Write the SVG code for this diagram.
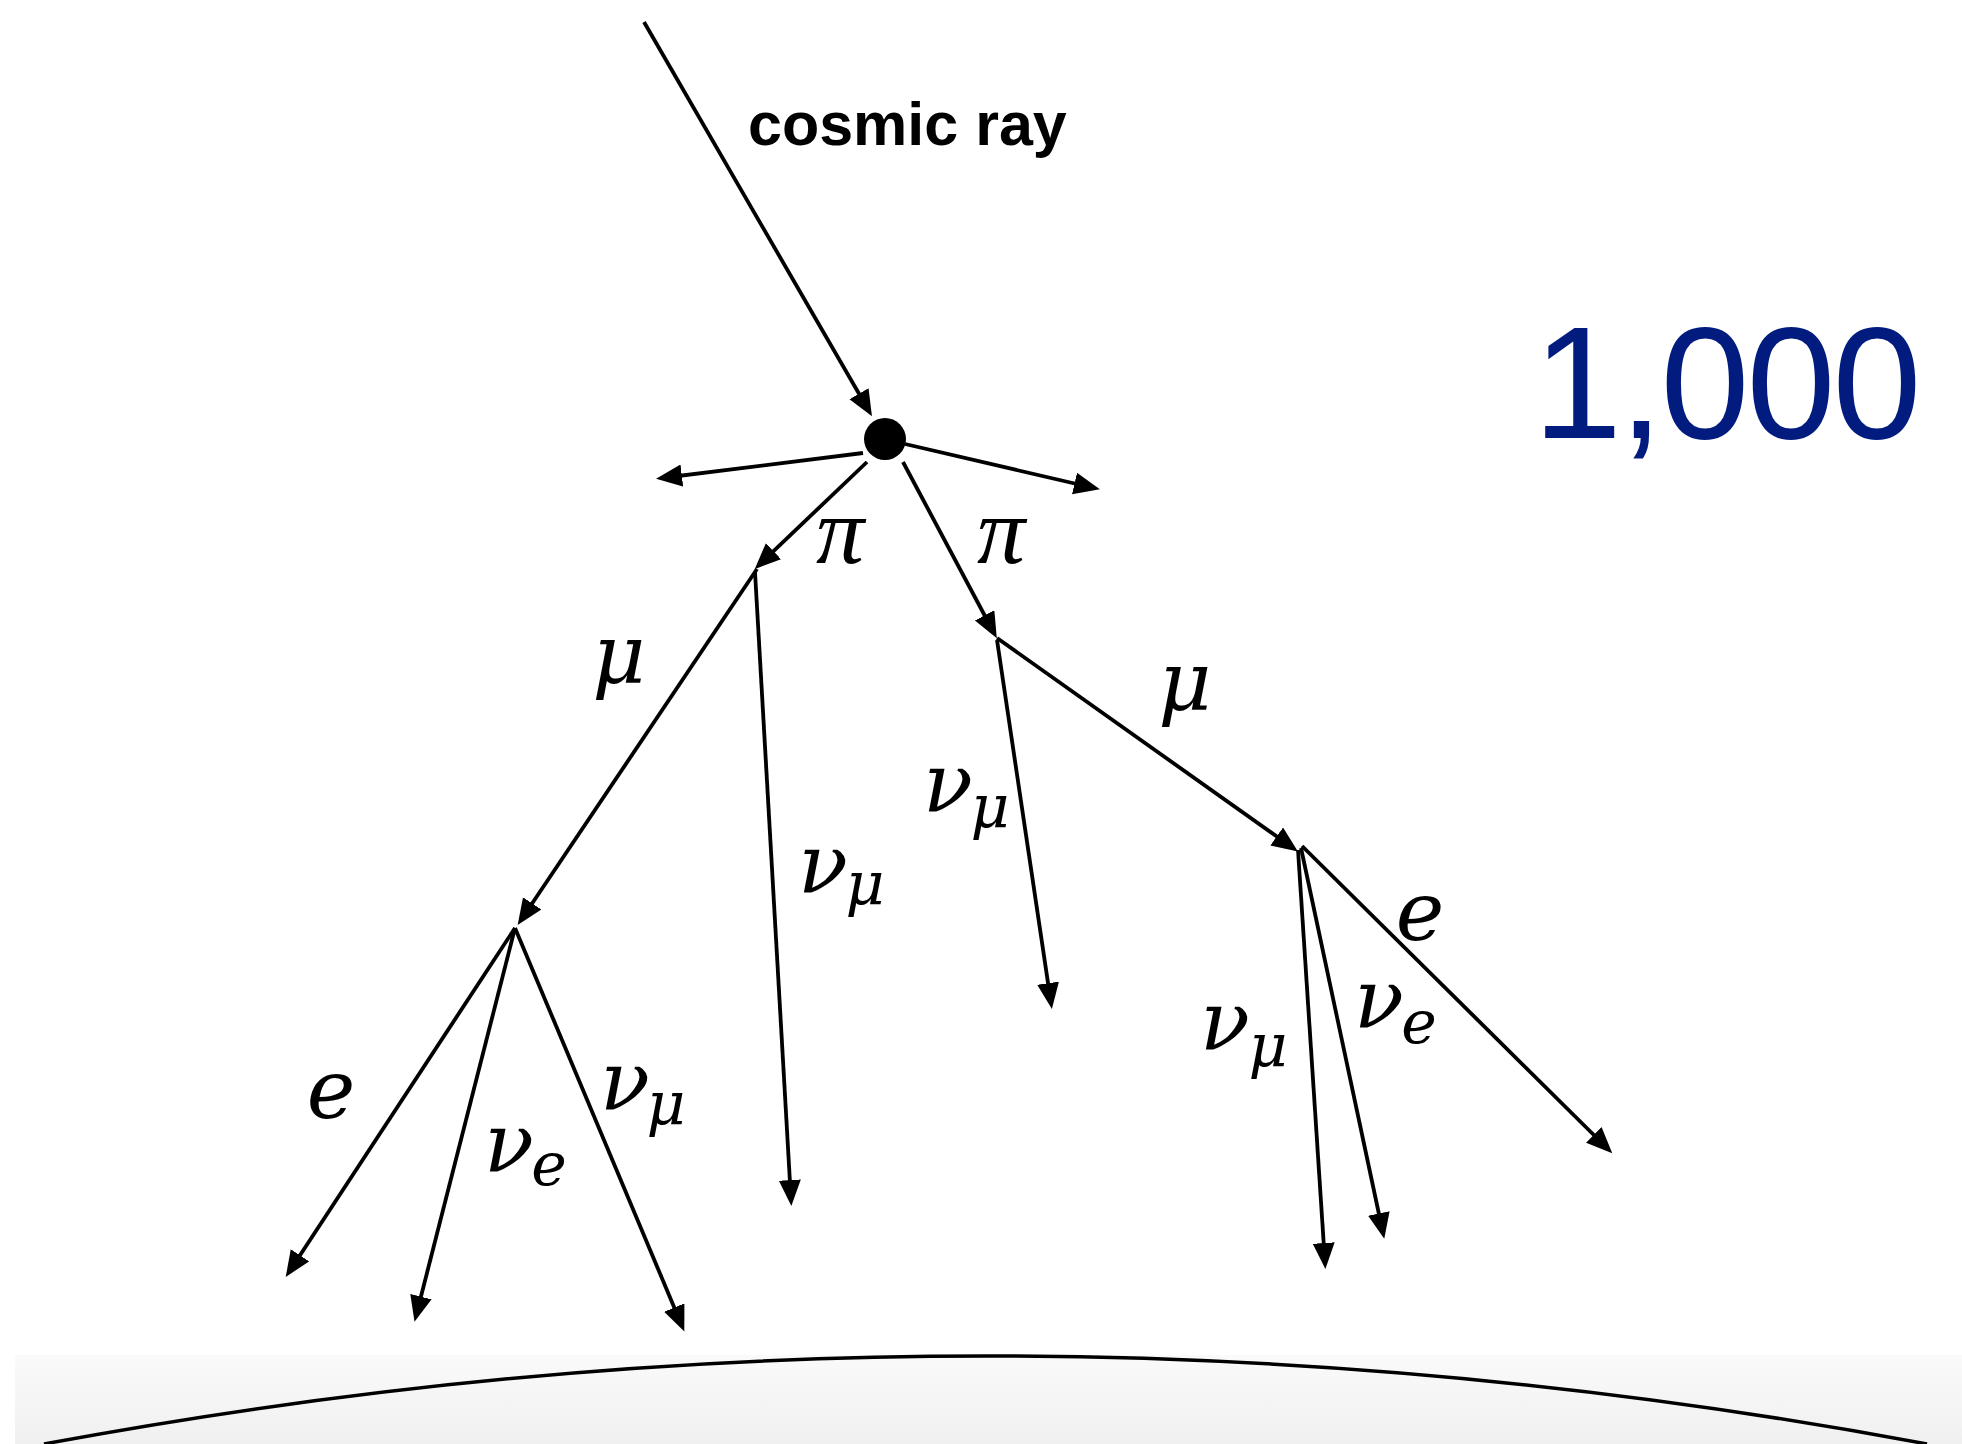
<svg xmlns="http://www.w3.org/2000/svg" width="1962" height="1444" viewBox="0 0 1962 1444">
<style>
.ln{stroke:#000;stroke-width:3.8;fill:none;marker-end:url(#ah)}
.m{font-family:"DejaVu Serif","Liberation Serif",serif;font-style:italic;font-size:82px;fill:#000;text-anchor:middle}
.p{font-family:"Liberation Serif","DejaVu Serif",serif;font-style:italic;font-size:96px;fill:#000;text-anchor:middle}
.s{font-size:60px}
</style>
<defs>
<marker id="ah" markerUnits="userSpaceOnUse" markerWidth="30" markerHeight="24" refX="20" refY="11" orient="auto">
<path d="M0,0 L26,11 L0,22 z" fill="#000"/>
</marker>
<linearGradient id="gnd" x1="0" y1="0" x2="0" y2="1">
<stop offset="0" stop-color="#fafafa"/>
<stop offset="1" stop-color="#f0f0f0"/>
</linearGradient>
</defs>
<rect width="1962" height="1444" fill="#fff"/>
<g id="ground">
<rect x="15" y="1355" width="1947" height="89" fill="url(#gnd)"/>
<path d="M44,1444 Q988,1268 1927,1444" stroke="#000" stroke-width="3.5" fill="none"/>
</g>
<g id="connectors">
<line class="ln" x1="644" y1="22" x2="869" y2="411"/>
<line class="ln" x1="863" y1="453" x2="662" y2="478"/>
<line class="ln" x1="905" y1="444" x2="1094" y2="488"/>
<line class="ln" x1="867" y1="462" x2="759" y2="565"/>
<line class="ln" x1="903" y1="462" x2="994" y2="633"/>
<line class="ln" x1="757" y1="569" x2="521" y2="920"/>
<line class="ln" x1="755" y1="572" x2="791" y2="1200"/>
<line class="ln" x1="515" y1="928" x2="289" y2="1272"/>
<line class="ln" x1="515" y1="928" x2="416" y2="1316"/>
<line class="ln" x1="515" y1="928" x2="682" y2="1326"/>
<line class="ln" x1="997" y1="640" x2="1051" y2="1003"/>
<line class="ln" x1="997" y1="638" x2="1293" y2="848"/>
<line class="ln" x1="1298" y1="850" x2="1325" y2="1263"/>
<line class="ln" x1="1301" y1="848" x2="1383" y2="1233"/>
<line class="ln" x1="1302" y1="846" x2="1608" y2="1149"/>
</g>
<g id="vertex"><circle cx="885" cy="439" r="21" fill="#000"/></g>
<g id="cosmic-ray-label"><text x="748" y="145" font-family="Liberation Sans, Arial, sans-serif" font-weight="bold" font-size="61">cosmic ray</text></g>
<g id="count"><text x="1533" y="438" font-family="Liberation Sans, Arial, sans-serif" font-size="160" letter-spacing="-3" fill="#011b7e">1,000</text></g>
<g id="labels">
<g id="pi-left"><text class="p" x="840" y="563">π</text></g>
<g id="pi-right"><text class="p" x="1001" y="563">π</text></g>
<g id="mu-left"><text class="m" x="619" y="683">μ</text></g>
<g id="mu-right"><text class="m" x="1185" y="710">μ</text></g>
<g id="numu-1"><text class="m"><tspan x="823" y="893">ν</tspan><tspan class="s" x="865" y="905">μ</tspan></text></g>
<g id="numu-2"><text class="m"><tspan x="948" y="812">ν</tspan><tspan class="s" x="990" y="828">μ</tspan></text></g>
<g id="e-left"><text class="m" x="331" y="1118">e</text></g>
<g id="nue-left"><text class="m"><tspan x="509" y="1172">ν</tspan><tspan class="s" x="549" y="1185">e</tspan></text></g>
<g id="numu-3"><text class="m"><tspan x="625" y="1110">ν</tspan><tspan class="s" x="666" y="1125">μ</tspan></text></g>
<g id="e-right"><text class="m" x="1420" y="940">e</text></g>
<g id="nue-right"><text class="m"><tspan x="1379" y="1028">ν</tspan><tspan class="s" x="1419" y="1043">e</tspan></text></g>
<g id="numu-4"><text class="m"><tspan x="1225" y="1050">ν</tspan><tspan class="s" x="1268" y="1067">μ</tspan></text></g>
</g>
</svg>
